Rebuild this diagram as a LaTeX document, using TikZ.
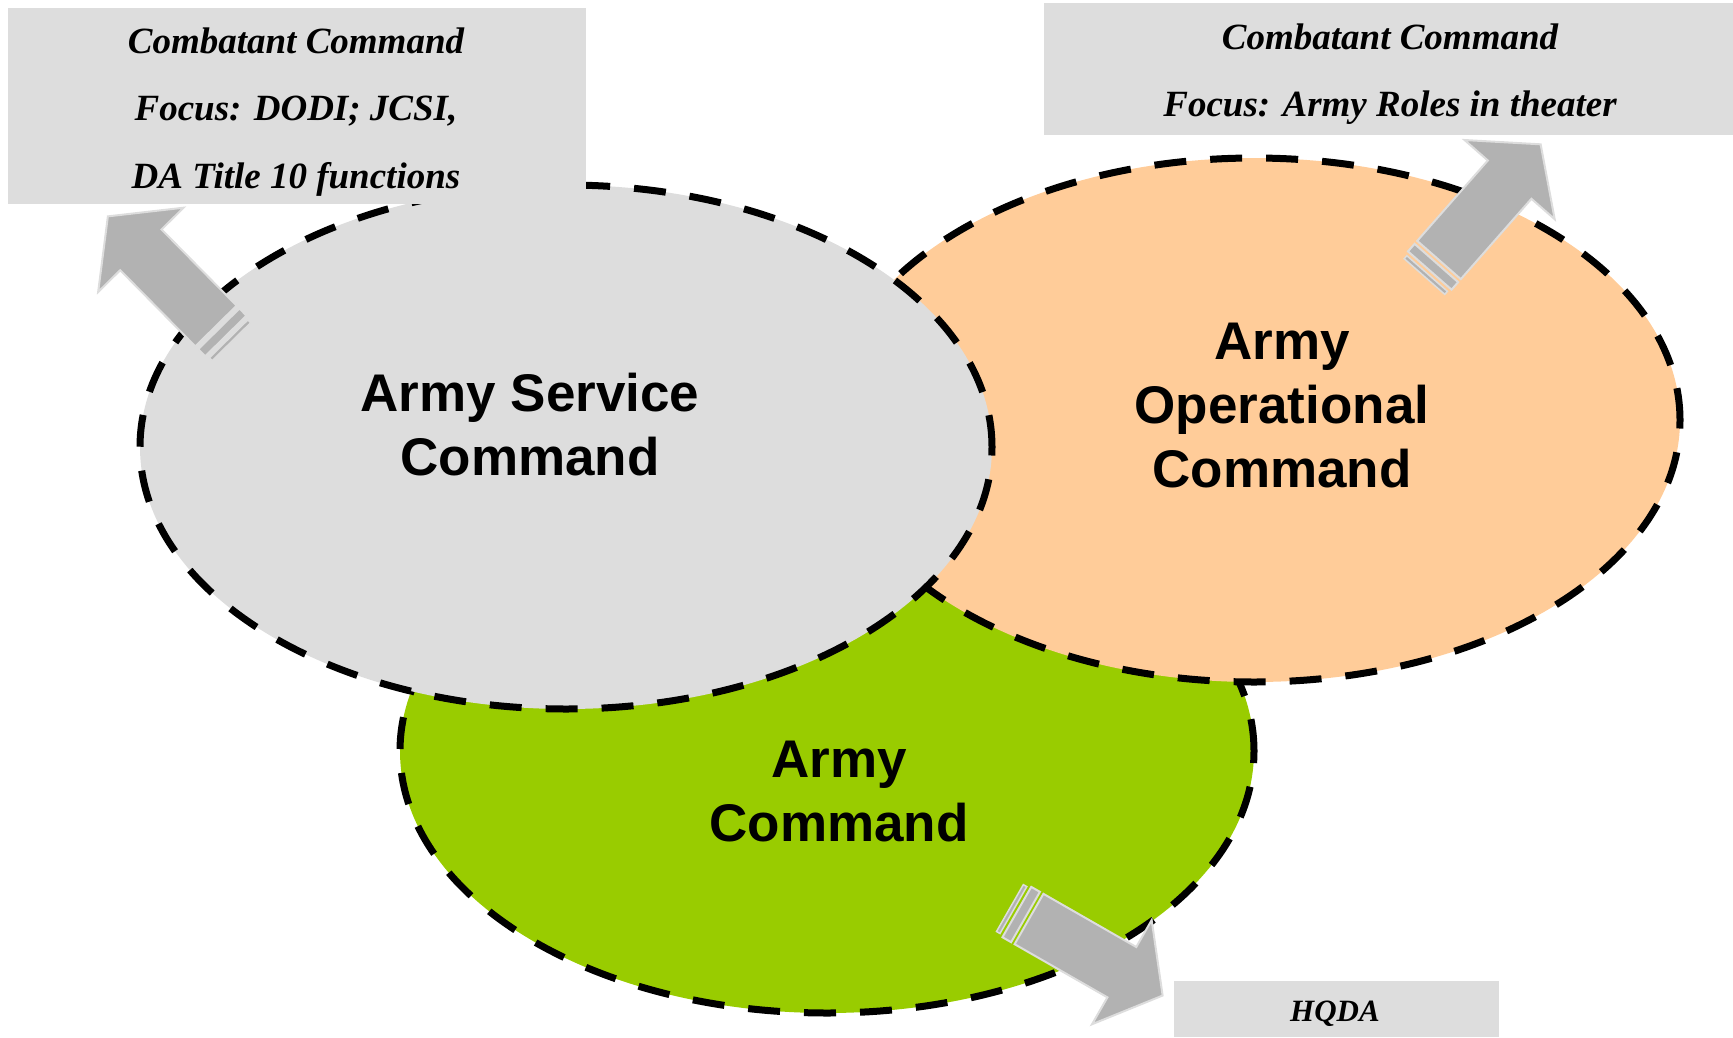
\documentclass[tikz,border=0pt]{standalone}
\usepackage{fontspec}
\setmainfont{Liberation Serif}
\newfontfamily\lsans{Liberation Sans}
\definecolor{boxgray}{HTML}{DDDDDD}
\definecolor{ellgray}{HTML}{DDDDDD}
\definecolor{peach}{HTML}{FFCC99}
\definecolor{lime}{HTML}{99CC00}
\definecolor{arrowfill}{HTML}{B2B2B2}
\definecolor{arrowline}{HTML}{DDDDDD}
\newcommand\blockarr[3]{%
  \begin{scope}[shift={(#1,#2)}, rotate=#3]
    \path[blockarrow] (0,-29) -- (107,-29) -- (107,-60) -- (154,0) -- (107,60) -- (107,29) -- (0,29) -- cycle;
    \path[blockarrow] (-14,-29) rectangle (-4,29);
    \path[blockarrow, line width=1.5pt] (-22,-27) rectangle (-18,27);
  \end{scope}}
\begin{document}
\begin{tikzpicture}[x=1pt,y=-1pt,
  ell/.style={draw=black, line width=7pt, dash pattern=on 32pt off 24pt},
  infobox/.style={rectangle, fill=boxgray, inner sep=0pt},
  infotext/.style={align=center, inner sep=0pt,
    font=\bfseries\itshape\fontsize{37}{67.5}\selectfont},
  lbl/.style={align=center, inner sep=0pt, font=\lsans\bfseries\fontsize{53}{64}\selectfont},
  blockarrow/.style={fill=arrowfill, draw=arrowline, line width=2pt, line join=miter}
]
\useasboundingbox (0,0) rectangle (1733,1037);
% ellipses
\path[ell, fill=lime]   (827,751)  ellipse [x radius=427pt, y radius=262pt];
\path[ell, fill=peach]  (1254,420) ellipse [x radius=426pt, y radius=262pt];
\path[ell, fill=ellgray](566,447)  ellipse [x radius=426pt, y radius=262pt];
% labels
\node[lbl] (asc) at (530,425) {Army Service\\Command};
\node[lbl] (aoc) at (1282,406) {Army\\Operational\\Command};
\node[lbl] (acm) at (839,792) {Army\\Command};
% boxes
\node[infobox, minimum width=578pt, minimum height=196pt] (cc1) at (297,106) {};
\node[infotext] (cc1t) at (296,112)
  {Combatant Command\\Focus: DODI; JCSI,\\DA Title 10 functions};
\node[infobox, minimum width=689pt, minimum height=132pt] (cc2) at (1388.5,69) {};
\node[infotext] (cc2t) at (1390,74)
  {Combatant Command\\Focus: Army Roles in theater};
\node[infobox, minimum width=325pt, minimum height=56pt] (hqda) at (1336.5,1009) {};
\node[infotext, font=\bfseries\itshape\fontsize{31}{40}\selectfont] (hqdat) at (1335,1014) {HQDA};
% block arrows
\blockarr{216}{326}{134.6}
\blockarr{1439}{260}{48.7}
\blockarr{1029}{919}{-29.8}
\end{tikzpicture}
\end{document}
